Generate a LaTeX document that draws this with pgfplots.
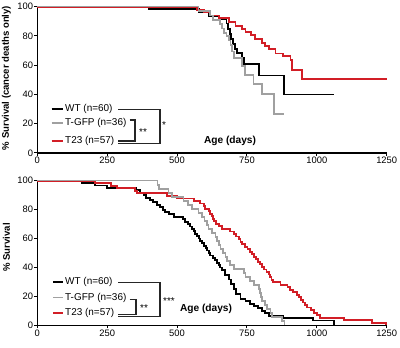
\documentclass[border=0pt]{standalone}
\usepackage{fontspec}
\setmainfont{Liberation Sans}
\usepackage{pgfplots}
\pgfplotsset{compat=1.18}
\definecolor{kmred}{RGB}{210,30,38}
\definecolor{kmgray}{RGB}{160,160,160}
\pgfplotsset{kmaxis/.style={
  scale only axis, width=349.4bp,
  xmin=0, xmax=1250, ymin=0, ymax=100,
  axis lines*=left,
  axis line style={line width=1.1bp, black},
  tick align=outside, major tick length=3bp,
  every tick/.style={black, line width=1bp},
  xtick={0,250,500,750,1000,1250}, ytick={0,20,40,60,80,100},
  tick label style={font=\fontsize{9.4}{10}\selectfont},
  /pgf/number format/assume math mode=true,
  /pgf/number format/1000 sep={},
  xticklabel style={inner ysep=1bp},
  yticklabel style={inner xsep=1bp},
  clip=false,
  every axis plot/.append style={const plot, mark=none},
}}
\begin{document}
\begin{tikzpicture}[x=1bp,y=1bp]
\useasboundingbox (0,0) rectangle (400,348);
% ---------------- top panel ----------------
\begin{axis}[kmaxis, height=146.3bp, at={(37.3bp,195bp)}, anchor=south west]
\addplot[black, line width=1.9bp] coordinates {
(0,100)(400,98.3)(577,96)(613,93.6)(649,91.5)(677,88.5)(683,85)(688,81.5)(694,78)
(700,74.5)(706,71)(715,68.5)(733,65)(739,61)(792,53)(882,40)(1061,40)};
\addplot[kmred, line width=1.9bp] coordinates {
(0,100)(571,98)(597,96)(619,94)(649,92)(685,89.5)(709,87)(733,85)(745,83)(765,80.5)
(780,78)(804,75)(816,73)(828,71)(852,68)(880,66)(906,63.5)(911,57)(948,50.5)(1250,50.5)};
\addplot[kmgray, line width=1.6bp] coordinates {
(0,100)(577,97)(617,94)(629,91)(653,88)(661,85)(667,82)(677,80)(685,77)(691,74)
(697,69.5)(703,65)(733,59.5)(742,53.4)(774,47.3)(804,40.2)(846,26.7)(884,26.7)};
\end{axis}
% ---------------- bottom panel ----------------
\begin{axis}[kmaxis, height=144.6bp, at={(37.3bp,22.7bp)}, anchor=south west]
\addplot[black, line width=1.9bp] coordinates {
(0,100)(160,98.3)(207,96.7)(250,95)(355,93.3)(368,91.7)(380,90)(390,88.3)(404,86.7)
(415,85)(428,83.3)(440,81.7)(450,80)(458,78.3)(470,76.7)(490,75)(520,73.3)(530,71.7)
(540,70)(547,68.3)(553,66.7)(559,65)(565,63.3)(572,61.7)(577,60)(583,58.3)(590,56.7)
(597,55)(602,53.3)(607,51.7)(613,50)(619,48.3)(628,46.7)(636,45)(643,43.3)(649,41.7)
(655,40)(660,38.3)(672,35)(685,31.7)(694,28.3)(703,25)(712,21.7)(727,18.3)(745,16.7)
(760,15)(775,13.3)(790,11.7)(805,10)(815,8.3)(830,6.7)(880,5)(985,3.3)(1061,0)};
\addplot[kmred, line width=1.9bp] coordinates {
(0,100)(207,98.2)(265,96.5)(285,94.7)(350,93)(356,91.2)(464,89.5)(500,87.7)(560,86)
(583,84.2)(595,82.5)(601,80.7)(613,79)(619,77.2)(625,75.4)(628,73.7)(631,71.9)(640,70.2)
(650,68.4)(661,66.7)(690,64.9)(703,63.2)(712,61.4)(721,59.6)(727,57.9)(733,56.1)
(742,54.4)(752,52.6)(760,50.9)(767,49.1)(774,47.4)(783,45.6)(790,43.9)(797,42.1)
(804,40.4)(812,38.6)(820,36.8)(828,35.1)(834,33.3)(838,31.6)(842,29.8)(870,28.1)
(895,26.3)(905,24.6)(915,22.8)(928,21.1)(936,19.3)(942,17.5)(950,15.8)(958,14)
(966,12.3)(978,10.5)(990,8.8)(1000,7)(1010,5.3)(1097,3.5)(1199,1.75)(1247,0)};
\addplot[kmgray, line width=1.6bp] coordinates {
(0,100)(430,97.2)(436,94.4)(470,91.7)(482,88.9)(523,86.1)(540,83.3)(553,80.6)(577,77.8)
(590,75)(598,72.2)(607,69.4)(613,66.7)(625,63.9)(637,61.1)(643,58.3)(649,55.6)
(655,52.8)(664,50)(673,47.2)(679,44.4)(690,41.7)(703,38.9)(740,36.1)(745,33.3)
(760,30.6)(775,27.8)(793,25)(796,22.2)(800,19.4)(804,16.7)(815,13.9)(822,11.1)
(834,8.3)(840,5.6)(875,2.8)(884,0)};
\end{axis}
% ---------------- labels ----------------
\node[rotate=90, font=\fontsize{9.6}{10}\selectfont\bfseries] at (6.5,270) {\% Survival (cancer deaths only)};
\node[rotate=90, font=\fontsize{9.6}{10}\selectfont\bfseries] at (6.5,100.5) {\% Survival};
\node[font=\fontsize{10.2}{11}\selectfont\bfseries] at (230,207) {Age (days)};
\node[font=\fontsize{10.2}{11}\selectfont\bfseries] at (206,38.7) {Age (days)};
% ---------------- top legend ----------------
\begin{scope}[font=\fontsize{10}{11}\selectfont]
\draw[black, line width=1.9bp] (51.7,238.7) -- (63.3,238.7);
\draw[kmgray, line width=1.6bp] (51.7,224.7) -- (63.3,224.7);
\draw[kmred, line width=1.9bp] (51.7,207) -- (63.3,207);
\node[anchor=west, inner sep=0pt] at (65,238.7) {WT (n=60)};
\node[anchor=west, inner sep=0pt] at (65,224.7) {T-GFP (n=36)};
\node[anchor=west, inner sep=0pt] at (65,207) {T23 (n=57)};
\draw[black!85, line width=1.1bp] (118.3,238.7) -- (160,238.7) -- (160,204.7) -- (118.3,204.7);
\draw[black!85, line width=1.1bp] (129.5,228) -- (135,228) -- (135,207) -- (118.3,207);
\node[anchor=west, inner sep=0pt] at (139,216.3) {**};
\node[anchor=west, inner sep=0pt] at (162,222.7) {*};
% ---------------- bottom legend ----------------
\draw[black, line width=1.9bp] (53.3,65.7) -- (63.3,65.7);
\draw[kmgray, line width=1.6bp] (53.3,50.3) -- (63.3,50.3);
\draw[kmred, line width=1.9bp] (53.3,34.7) -- (63.3,34.7);
\node[anchor=west, inner sep=0pt] at (65,65.7) {WT (n=60)};
\node[anchor=west, inner sep=0pt] at (65,50.3) {T-GFP (n=36)};
\node[anchor=west, inner sep=0pt] at (65,34.7) {T23 (n=57)};
\draw[black!85, line width=1.1bp] (118.3,65.7) -- (160,65.7) -- (160,31.3) -- (118.3,31.3);
\draw[black!85, line width=1.1bp] (129.5,48.7) -- (136,48.7) -- (136,33.7) -- (118.3,33.7);
\node[anchor=west, inner sep=0pt] at (140,40) {**};
\node[anchor=west, inner sep=0pt] at (163,46.7) {***};
\end{scope}
\end{tikzpicture}
\end{document}
